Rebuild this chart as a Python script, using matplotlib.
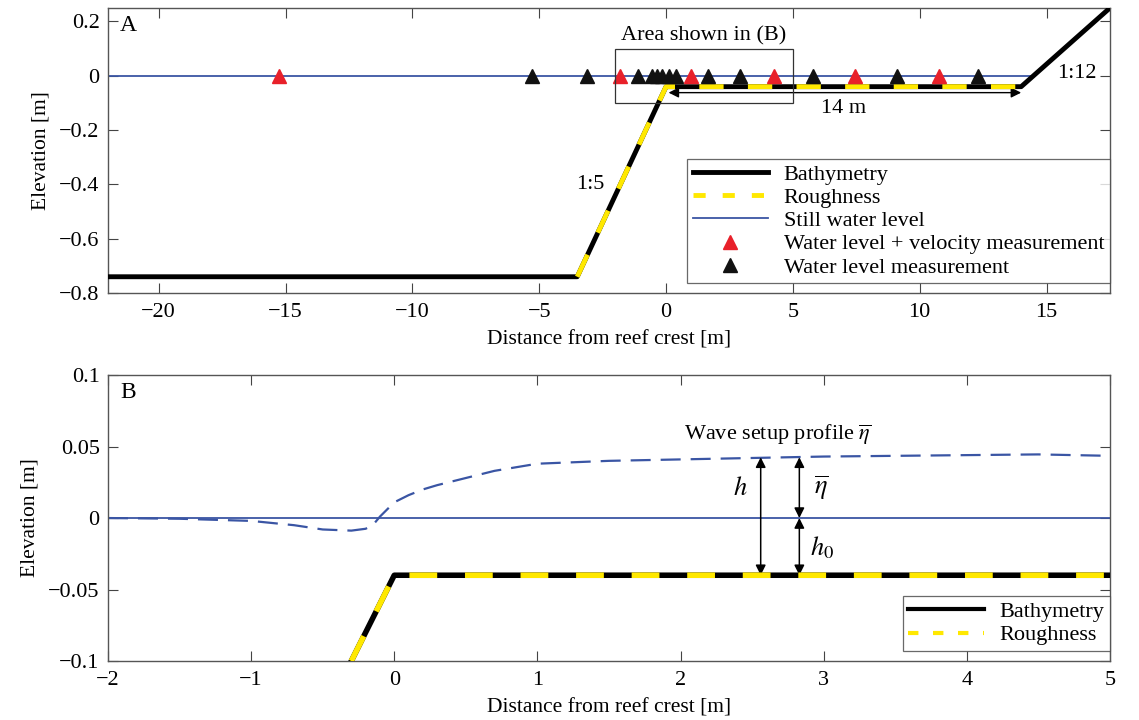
import matplotlib
matplotlib.use("Agg")
import matplotlib.pyplot as plt
from matplotlib.lines import Line2D

plt.rcParams['font.family'] = ['Liberation Serif', 'DejaVu Serif']
plt.rcParams['mathtext.fontset'] = 'stix'
plt.rcParams['font.size'] = 16

# ---- Data: panel A ----
bathy_x = [-22.0, -3.5, 0.0, 14.0, 17.5]
bathy_y = [-0.74, -0.74, -0.04, -0.04, 0.25]
rough_x = [-3.5, 0.0, 14.0]
rough_y = [-0.74, -0.04, -0.04]
swl_x = [-22.0, 14.48]
swl_y = [0.0, 0.0]
red_x = [-15.25, -1.8, 1.0, 4.25, 7.45, 10.75]
black_x = [-5.3, -3.1, -1.1, -0.55, -0.35, -0.15, 0.1, 0.4, 1.65, 2.9, 5.8, 9.1, 12.3]

# ---- Data: panel B ----
bathyB_x = [-0.3, 0.0, 5.0]
bathyB_y = [-0.1, -0.04, -0.04]
setup_x = [-2.0, -1.5, -1.0, -0.7, -0.5, -0.3, -0.2, -0.15, -0.1, -0.05, 0.0, 0.1, 0.2, 0.3,
           0.5, 0.7, 1.0, 1.5, 2.0, 2.5, 3.0, 3.5, 4.0, 4.5, 5.0]
setup_y = [0.0, -0.0005, -0.002, -0.005, -0.008, -0.0088, -0.0075, -0.005, 0.001, 0.006,
           0.011, 0.016, 0.020, 0.023, 0.028, 0.033, 0.038, 0.040, 0.041, 0.042, 0.043,
           0.0435, 0.044, 0.0445, 0.0435]

BLUE = '#3a55a4'
YEL = '#ffe800'
FS = 16

fig = plt.figure(figsize=(11.39, 7.2), dpi=100)
axA = fig.add_axes([0.0948, 0.593, 0.8797, 0.396])
axB = fig.add_axes([0.0948, 0.0819, 0.8797, 0.3972])

for ax in (axA, axB):
    ax.tick_params(direction='in', top=True, right=True, length=7, width=0.8,
                   labelsize=FS, color='#444444')
    ax.tick_params(axis='x', pad=7)
    ax.tick_params(axis='y', pad=6)
    for s in ax.spines.values():
        s.set_color('#555555')
        s.set_linewidth(1.0)

# Panel A
axA.plot(swl_x, swl_y, color=BLUE, lw=1.3, zorder=2)
axA.plot(bathy_x, bathy_y, color='black', lw=3.5, solid_joinstyle='round', zorder=3)
axA.plot(rough_x, rough_y, color=YEL, lw=3.5, dashes=(5, 5), zorder=4, dash_joinstyle='round')
lred, = axA.plot(red_x, [0]*len(red_x), ls='none', marker='^', color='#e8202a', ms=9.5, zorder=5)
lblk, = axA.plot(black_x, [0]*len(black_x), ls='none', marker='^', color='#111111', ms=9.5, zorder=5)
axA.set_xlim(-22, 17.5)
axA.set_ylim(-0.8, 0.25)
axA.set_xticks([-20, -15, -10, -5, 0, 5, 10, 15])
axA.set_xticklabels(['\u221220', '\u221215', '\u221210', '\u22125', '0', '5', '10', '15'])
axA.set_yticks([-0.8, -0.6, -0.4, -0.2, 0, 0.2])
axA.set_yticklabels(['\u22120.8', '\u22120.6', '\u22120.4', '\u22120.2', '0', '0.2'])
axA.set_xlabel('Distance from reef crest [m]', fontsize=15.5, labelpad=6)
axA.set_ylabel('Elevation [m]', fontsize=15.5, labelpad=6)
axA.text(0.012, 0.975, 'A', transform=axA.transAxes, ha='left', va='top', fontsize=17)
axA.add_patch(plt.Rectangle((-2, -0.1), 7, 0.2, fill=False, ec='#333333', lw=0.9, zorder=6))
axA.text(1.5, 0.112, 'Area shown in (B)', ha='center', va='bottom', fontsize=FS)
axA.annotate('', xy=(0.1, -0.062), xytext=(14.0, -0.062),
             arrowprops=dict(arrowstyle='<|-|>', color='black', lw=1.0, mutation_scale=15,
                             shrinkA=0, shrinkB=0))
axA.text(7.0, -0.12, '14 m', ha='center', va='center', fontsize=FS)
axA.text(-3.0, -0.40, '1:5', ha='center', va='center', fontsize=FS)
axA.text(16.2, 0.01, '1:12', ha='center', va='center', fontsize=FS)

hB = Line2D([], [], color='black', lw=3.5)
hR = Line2D([], [], color=YEL, lw=3.5, dashes=(2.5, 3.5))
hS = Line2D([], [], color=BLUE, lw=1.3)
legA = axA.legend([hB, hR, hS, lred, lblk],
                  ['Bathymetry', 'Roughness', 'Still water level',
                   'Water level + velocity measurement', 'Water level measurement'],
                  loc='lower right', bbox_to_anchor=(1.0, 0.035), fontsize=FS, frameon=True,
                  fancybox=False, edgecolor='#444444', handlelength=3.4,
                  labelspacing=0.12, borderpad=0.25, handletextpad=0.7, borderaxespad=0.0)
legA.get_frame().set_linewidth(0.9)
legA.set_zorder(10)

# Panel B
axB.plot([-2, 5], [0, 0], color=BLUE, lw=1.3, zorder=2)
axB.plot(setup_x, setup_y, color=BLUE, lw=1.6, dashes=(9, 4.5), zorder=2)
axB.plot(bathyB_x, bathyB_y, color='black', lw=4, solid_joinstyle='round', zorder=3)
axB.plot(bathyB_x, bathyB_y, color=YEL, lw=4, dashes=(5, 5), zorder=4, dash_joinstyle='round')
axB.set_xlim(-2, 5)
axB.set_ylim(-0.1, 0.1)
axB.set_xticks([-2, -1, 0, 1, 2, 3, 4, 5])
axB.set_xticklabels(['\u22122', '\u22121', '0', '1', '2', '3', '4', '5'])
axB.set_yticks([-0.1, -0.05, 0, 0.05, 0.1])
axB.set_yticklabels(['\u22120.1', '\u22120.05', '0', '0.05', '0.1'])
axB.set_xlabel('Distance from reef crest [m]', fontsize=15.5, labelpad=6)
axB.set_ylabel('Elevation [m]', fontsize=15.5, labelpad=6)
axB.text(0.012, 0.975, 'B', transform=axB.transAxes, ha='left', va='top', fontsize=17)
axB.text(2.68, 0.058, r'Wave setup profile $\overline{\eta}$', ha='center', va='center', fontsize=FS)
ap = dict(arrowstyle='<|-|>', color='black', lw=1.1, mutation_scale=15, shrinkA=0, shrinkB=0)
axB.annotate('', xy=(2.56, 0.0425), xytext=(2.56, -0.04), arrowprops=ap)
axB.annotate('', xy=(2.83, 0.0425), xytext=(2.83, 0.0), arrowprops=ap)
axB.annotate('', xy=(2.83, 0.0), xytext=(2.83, -0.04), arrowprops=ap)
axB.text(2.42, 0.021, r'$h$', ha='center', va='center', fontsize=19)
axB.text(2.98, 0.021, r'$\overline{\eta}$', ha='center', va='center', fontsize=19)
axB.text(2.99, -0.021, r'$h_0$', ha='center', va='center', fontsize=19)

hB2 = Line2D([], [], color='black', lw=3)
hR2 = Line2D([], [], color=YEL, lw=3, dashes=(2.5, 3.5))
legB = axB.legend([hB2, hR2], ['Bathymetry', 'Roughness'], loc='lower right',
                  bbox_to_anchor=(1.0, 0.035), fontsize=FS, frameon=True, fancybox=False,
                  edgecolor='#444444', handlelength=3.4, labelspacing=0.12, borderpad=0.25,
                  handletextpad=0.7, borderaxespad=0.0)
legB.get_frame().set_linewidth(0.9)

fig.savefig('out.png', dpi=100)
